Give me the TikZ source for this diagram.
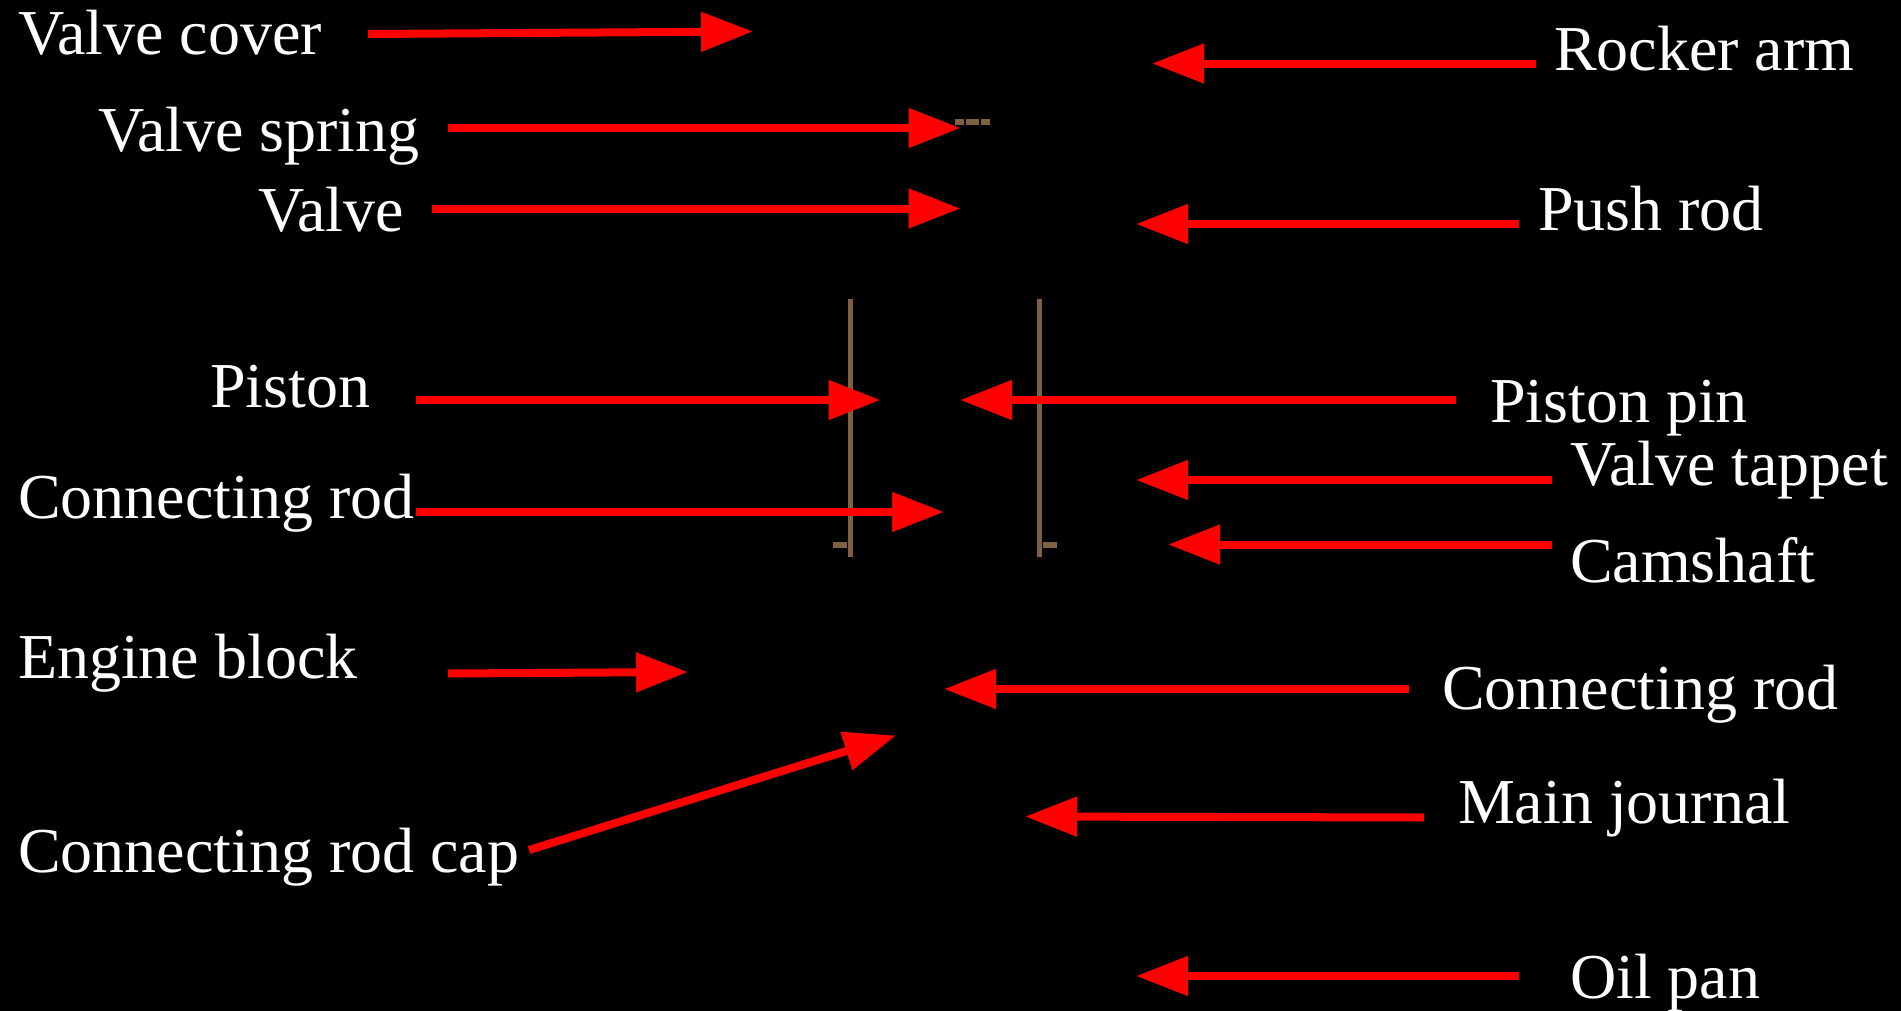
\documentclass[tikz,border=0pt]{standalone}
\usepackage{fontspec}
\setmainfont{Liberation Serif}
\usetikzlibrary{arrows.meta}
\definecolor{brownline}{RGB}{127,96,64}
\tikzset{
  x=0.75pt,y=-0.75pt,
  lab/.style={anchor=base west,inner sep=0pt,outer sep=0pt,text=white,font=\fontsize{48pt}{52pt}\selectfont},
  redarrow/.style={draw=red,line width=6pt,-{Triangle[length=39pt,width=28.5pt]}},
  brownbar/.style={draw=brownline,line width=3.8pt}
}
\begin{document}
\begin{tikzpicture}
\useasboundingbox (0,0) rectangle (1901,1010);
\fill[black] (-6,-6) rectangle (1907,1016);
% brown remains
\draw[brownbar] (850.5,299) -- (850.5,557);
\draw[brownbar] (1039.5,299) -- (1039.5,557);
\draw[brownbar] (833,545) -- (847,545);
\draw[brownbar] (1043,545) -- (1057,545);
\draw[brownbar] (955,122) -- (964,122);
\draw[brownbar] (966,122) -- (979,122);
\draw[brownbar] (981,122) -- (990,122);
% labels
\node[lab] (vc) at (18,54) {Valve cover};
\node[lab] (vs) at (98,151) {Valve spring};
\node[lab] (v) at (258,231) {Valve};
\node[lab] (p) at (210,407) {Piston};
\node[lab] (cr1) at (18,518) {Connecting rod};
\node[lab] (eb) at (18,678) {Engine block};
\node[lab] (crc) at (18,872) {Connecting rod cap};
\node[lab] (ra) at (1554,70) {Rocker arm};
\node[lab] (pr) at (1538,230) {Push rod};
\node[lab] (pp) at (1490,422) {Piston pin};
\node[lab] (vt) at (1570,485) {Valve tappet};
\node[lab] (cs) at (1570,582) {Camshaft};
\node[lab] (cr2) at (1442,709) {Connecting rod};
\node[lab] (mj) at (1458,823) {Main journal};
\node[lab] (op) at (1570,998) {Oil pan};
% arrow ends
\coordinate (vcA) at (368,34);   \coordinate (vcB) at (753,31.5);
\coordinate (vsA) at (448,128);  \coordinate (vsB) at (960.5,128);
\coordinate (vA) at (432,208.5);   \coordinate (vB) at (960.5,208.5);
\coordinate (pA) at (416,400);   \coordinate (pB) at (880.5,400);
\coordinate (cr1A) at (416,512); \coordinate (cr1B) at (944,512);
\coordinate (ebA) at (448,673.5);  \coordinate (ebB) at (688,672);
\coordinate (crcA) at (529,850); \coordinate (crcB) at (896,735.5);
\coordinate (raA) at (1536,63.5);  \coordinate (raB) at (1152,63.5);
\coordinate (prA) at (1519,224); \coordinate (prB) at (1136,224);
\coordinate (ppA) at (1456,400); \coordinate (ppB) at (960,400);
\coordinate (vtA) at (1552,480); \coordinate (vtB) at (1136,480);
\coordinate (csA) at (1552,544.5); \coordinate (csB) at (1168,544.5);
\coordinate (cr2A) at (1409,689);\coordinate (cr2B) at (944,689);
\coordinate (mjA) at (1424,817.5); \coordinate (mjB) at (1025,816.5);
\coordinate (opA) at (1519,976); \coordinate (opB) at (1136,976);
\foreach \n in {vc,vs,v,p,cr1,eb,crc,ra,pr,pp,vt,cs,cr2,mj,op}
  \draw[redarrow] (\n A) -- (\n B);
\end{tikzpicture}
\end{document}
